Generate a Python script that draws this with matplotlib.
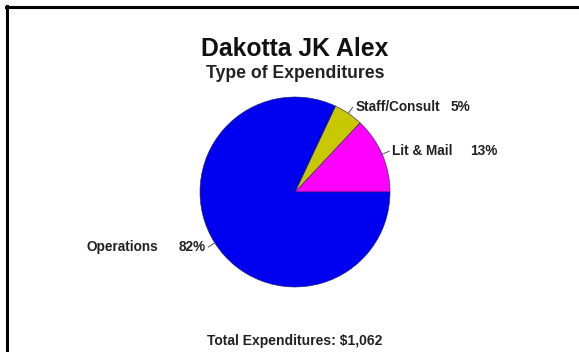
import numpy as np
import matplotlib
matplotlib.use("Agg")
import matplotlib.pyplot as plt
from matplotlib.lines import Line2D

plt.rcParams['font.family'] = ['Liberation Sans', 'DejaVu Sans']

categories = ["Lit & Mail", "Staff/Consult", "Operations"]
percents = [13, 5, 82]
colors = ["#FF00FF", "#C8C800", "#0000F0"]
pct_labels = ["13%", "5%", "82%"]
title = "Dakotta JK Alex"
subtitle = "Type of Expenditures"
total_text = "Total Expenditures: $1,062"

W, H = 579, 352
fig = plt.figure(figsize=(W / 100, H / 100), dpi=100)
ax = fig.add_axes([0, 0, 1, 1])
cx, cy, R = 295, 192, 95

wedges, _ = ax.pie(percents, colors=colors, startangle=0, counterclock=True,
                   radius=1.0, wedgeprops=dict(edgecolor="#202060", linewidth=0.4))
ax.set_xlim(-cx / R, (W - cx) / R)
ax.set_ylim(-(H - cy) / R, cy / R)
ax.set_aspect('auto')
ax.axis('off')

fs = 9.8
style = dict(va='center', fontsize=fs, fontweight='bold', color='#222222')
# gap (in data units) between name and percentage, per label
gaps = [0.19, 0.11, 0.21]
renderer = fig.canvas.get_renderer()
inv = ax.transData.inverted()
for w, nm, pc, gap in zip(wedges, categories, pct_labels, gaps):
    mid = np.deg2rad((w.theta1 + w.theta2) / 2)
    c, s = np.cos(mid), np.sin(mid)
    ax.plot([c * 1.0, c * 1.08], [s * 1.0, s * 1.08], color="#555555", lw=0.7)
    x0, y0 = c * 1.08, s * 1.08
    if c > 0:
        t = ax.text(x0 + 0.03, y0, nm, ha='left', **style)
        bb = t.get_window_extent(renderer).transformed(inv)
        ax.text(bb.x1 + gap, y0, pc, ha='left', **style)
    else:
        t = ax.text(x0 - 0.03, y0, pc, ha='right', **style)
        bb = t.get_window_extent(renderer).transformed(inv)
        ax.text(bb.x0 - gap, y0, nm, ha='right', **style)

fig.text(295 / W, 1 - 49 / H, title, ha='center', va='center', fontsize=17.8,
         fontweight='bold', color='#111111')
fig.text(295 / W, 1 - 74 / H, subtitle, ha='center', va='center', fontsize=12.7,
         fontweight='bold', color='#222222')
fig.text(295 / W, 1 - 341 / H, total_text, ha='center', va='center', fontsize=10,
         fontweight='bold', color='#222222')

fig.add_artist(Line2D([6 / W, 1], [1 - 7 / H, 1 - 7 / H], transform=fig.transFigure,
                      color='black', lw=2.2))
fig.add_artist(Line2D([7 / W, 7 / W], [1 - 6 / H, 0], transform=fig.transFigure,
                      color='black', lw=2.2))

fig.savefig("out.png", dpi=100, facecolor='white')
